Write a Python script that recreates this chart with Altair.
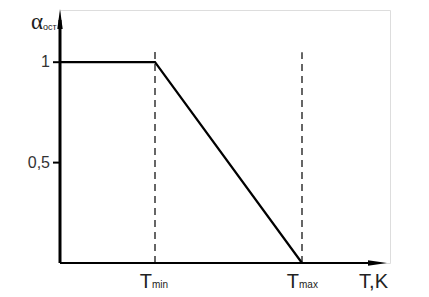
import altair as alt
import pandas as pd

# data (x in arbitrary temperature units, y = alpha_ост)
T_MIN = 95
T_MAX = 242
X_END = 330
Y_END = 1.26
curve_x = [0, T_MIN, T_MAX]
curve_y = [1.0, 1.0, 0.0]
y_ticks = [1.0, 0.5]
y_tick_labels = ["1", "0,5"]
dash_x = [T_MIN, T_MAX]
dash_top = [1.07, 1.05]

xs = alt.Scale(domain=[0, X_END], nice=False, zero=False)
ys = alt.Scale(domain=[0, Y_END], nice=False, zero=False)
X = lambda f: alt.X(f, type="quantitative", scale=xs, axis=None)
Y = lambda f: alt.Y(f, type="quantitative", scale=ys, axis=None)

curve_df = pd.DataFrame({"x": curve_x, "y": curve_y})
dash_df = pd.DataFrame({"x": dash_x, "y0": [0, 0], "y1": dash_top})
tick_df = pd.DataFrame({"y": y_ticks, "lab": y_tick_labels, "x0": [-7, -7], "x1": [0, 0]})
yaxis_df = pd.DataFrame({"x": [0], "y0": [0], "y1": [Y_END - 0.05]})
xaxis_df = pd.DataFrame({"y": [0], "x0": [0], "x1": [X_END - 14]})
arrow_up = pd.DataFrame({"x": [0], "y": [Y_END - 0.045]})
arrow_right = pd.DataFrame({"x": [X_END - 12.5], "y": [0]})

base_font = "Liberation Sans"
col = "#222222"

yaxis = alt.Chart(yaxis_df).mark_rule(strokeWidth=3, color="black").encode(
    x=X("x"), y=Y("y0"), y2="y1")
xaxis = alt.Chart(xaxis_df).mark_rule(strokeWidth=2, color="black").encode(
    x=X("x0"), x2="x1", y=Y("y"))
up = alt.Chart(arrow_up).mark_point(
    shape="M0,-1L0.27,1L-0.27,1Z", filled=True, color="black", opacity=1, size=400
).encode(x=X("x"), y=Y("y"))
right = alt.Chart(arrow_right).mark_point(
    shape="M1,0L-1,0.28L-1,-0.28Z", filled=True, color="black", opacity=1, size=361
).encode(x=X("x"), y=Y("y"))
curve = alt.Chart(curve_df).mark_line(strokeWidth=2.2, color="black").encode(
    x=X("x"), y=Y("y"), order=alt.Order("x:Q"))
dashes = alt.Chart(dash_df).mark_rule(strokeWidth=1.2, color="black", strokeDash=[7, 5]).encode(
    x=X("x"), y=Y("y0"), y2="y1")
ticks = alt.Chart(tick_df).mark_rule(strokeWidth=2, color="black").encode(
    x=X("x0"), x2="x1", y=Y("y"))
tick_labels = alt.Chart(tick_df).mark_text(
    align="right", baseline="middle", dx=-10, fontSize=16, font=base_font, color="#333333"
).encode(x=alt.value(0), y=Y("y"), text="lab")

txt = pd.DataFrame({
    "x": [T_MIN, T_MAX, T_MIN, T_MAX],
    "t": ["T", "T", "min", "max"],
    "kind": ["big", "big", "sub", "sub"],
})
big_T = alt.Chart(txt[txt.kind == "big"]).mark_text(
    align="right", baseline="alphabetic", dx=-3, dy=25, fontSize=20, font=base_font, color=col
).encode(x=X("x"), y=alt.value(253), text="t")
sub_T = alt.Chart(txt[txt.kind == "sub"]).mark_text(
    align="left", baseline="alphabetic", dx=-3, dy=25, fontSize=10, font=base_font, color=col
).encode(x=X("x"), y=alt.value(253), text="t")
tk = alt.Chart(pd.DataFrame({"x": [X_END], "t": ["T,K"]})).mark_text(
    align="right", baseline="alphabetic", dx=-2, dy=25, fontSize=20, font=base_font, color=col
).encode(x=X("x"), y=alt.value(253), text="t")
alpha = alt.Chart(pd.DataFrame({"t": ["α"]})).mark_text(
    align="right", baseline="alphabetic", fontSize=23, font="Liberation Serif", color=col
).encode(x=alt.value(-17), y=alt.value(19), text="t")
alpha_sub = alt.Chart(pd.DataFrame({"t": ["ост"]})).mark_text(
    align="left", baseline="alphabetic", fontSize=9, font=base_font, color=col
).encode(x=alt.value(-17), y=alt.value(20), text="t")

chart = alt.layer(
    dashes, curve, yaxis, xaxis, up, right, ticks, tick_labels,
    big_T, sub_T, tk, alpha, alpha_sub
).properties(
    width=330, height=253,
    autosize=alt.AutoSizeParams(type="none"),
    padding={"left": 52, "top": 2, "right": 31, "bottom": 30},
).configure_view(stroke=None).configure(background="white")

chart.save("out.html", embed_options={"renderer": "svg", "actions": False})
